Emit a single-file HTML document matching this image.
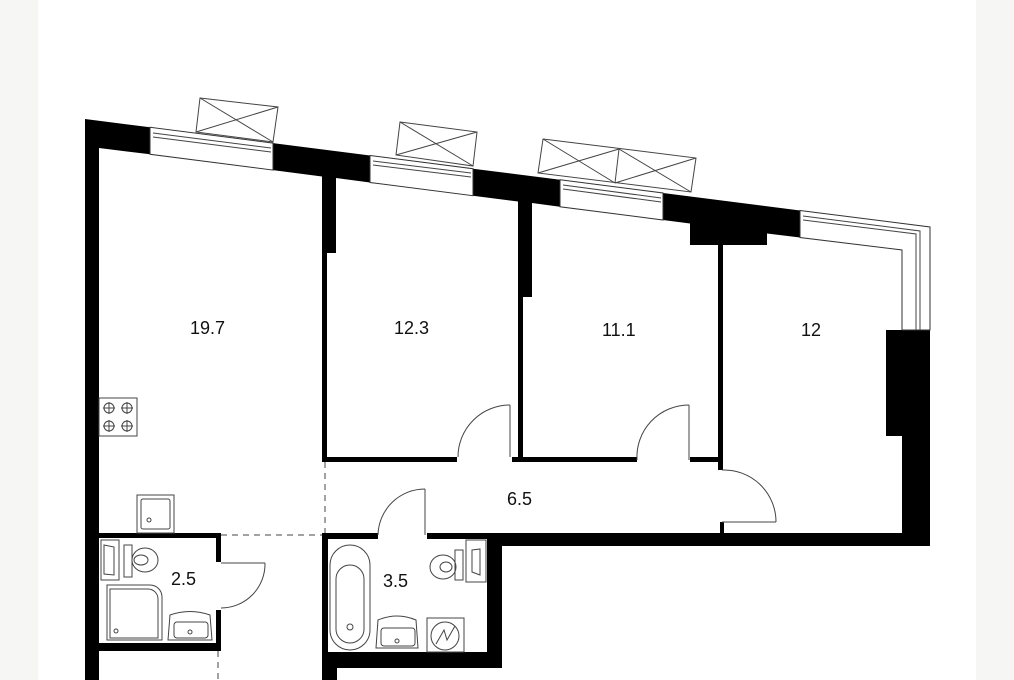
<!DOCTYPE html>
<html><head><meta charset="utf-8"><style>
html,body{margin:0;padding:0;background:#fff;}
body{width:1014px;height:680px;overflow:hidden;position:relative;}
.l{position:absolute;top:0;left:0;width:38px;height:680px;background:#f6f6f5;}
.r{position:absolute;top:0;right:0;width:38px;height:680px;background:#f6f6f5;}
svg{position:absolute;top:0;left:0;}
text{font-family:"Liberation Sans",sans-serif;font-size:18px;fill:#111;}
</style></head><body>
<div class="l"></div><div class="r"></div>
<svg width="1014" height="680" viewBox="0 0 1014 680">
<g fill="#000">
<polygon points="85,119 150,127.3 150,154.3 99,148 99,680 85,680"/>
<polygon points="273,143.1 370,155.5 370,182.5 336,178 336,253 322,253 322,176.5 273,170.1"/>
<polygon points="473,168.7 560,179.8 560,206.8 532,203 532,297 518,297 518,201.5 473,195.7"/>
<polygon points="663,193 800,210.5 800,237.5 767,233.5 767,245 690,245 690,223.5 663,220"/>
<rect x="902" y="330" width="28" height="216"/>
<rect x="886" y="330" width="17" height="106"/>
<rect x="487" y="533" width="443" height="13"/>
<rect x="487" y="533" width="15" height="135"/>
<rect x="322" y="652" width="180" height="16"/>
<rect x="322" y="533" width="6" height="147"/>
<rect x="322" y="652" width="15" height="28"/>
<rect x="322" y="250" width="5" height="212"/>
<rect x="518" y="295" width="5" height="167"/>
<rect x="718" y="237" width="5" height="233"/>
<rect x="720" y="522" width="4" height="12"/>
<rect x="322" y="457" width="135" height="5"/>
<rect x="512" y="457" width="125" height="5"/>
<rect x="690" y="457" width="33" height="5"/>
<rect x="99" y="533" width="122" height="5"/>
<rect x="216" y="533" width="5" height="29"/>
<rect x="216" y="610" width="5" height="40"/>
<rect x="99" y="643" width="122" height="8"/>
<rect x="322" y="533" width="56" height="6"/>
<rect x="427" y="533" width="62" height="6"/>
</g>
<g fill="#fff" stroke="#333" stroke-width="1">
<polygon points="150,127.3 273,143.1 273,170.1 150,154.3"/>
<polygon points="370,155.5 473,168.7 473,195.7 370,182.5"/>
<polygon points="560,179.8 663,193 663,220 560,206.8"/>
<polygon points="800,210.5 930,227 930,330 902,330 902,250 800,237.5"/>
</g>
<g fill="none" stroke="#444" stroke-width="1">
<polyline points="153,133 271,148"/><polyline points="153,137 271,152"/>
<polyline points="373,161 471,173"/><polyline points="373,165 471,177"/>
<polyline points="563,185 661,198"/><polyline points="563,189 661,202"/>
<polyline points="803,216 920,231 920,330"/><polyline points="803,220 916,234 916,330"/>
<polygon points="200,98 278,107 273,142 196,132"/><line x1="200" y1="98" x2="273" y2="142"/><line x1="278" y1="107" x2="196" y2="132"/>
<polygon points="400,122 477,132 473,166 396,155"/><line x1="400" y1="122" x2="473" y2="166"/><line x1="477" y1="132" x2="396" y2="155"/>
<polygon points="543,139 696,158 691,192 538,173"/><line x1="619" y1="149" x2="615" y2="183"/>
<line x1="543" y1="139" x2="615" y2="183"/><line x1="619" y1="149" x2="538" y2="173"/>
<line x1="619" y1="149" x2="691" y2="192"/><line x1="696" y1="158" x2="615" y2="183"/>
<line x1="510" y1="457" x2="510" y2="405"/><path d="M458,457 A52,52 0 0 1 510,405"/>
<line x1="689" y1="460" x2="689" y2="405"/><path d="M637,460 A52,52 0 0 1 689,405"/>
<line x1="722" y1="522" x2="776" y2="522"/><path d="M722,470 A52,52 0 0 1 776,522"/>
<line x1="221" y1="563" x2="265" y2="563"/><path d="M265,563 A44,44 0 0 1 221,608"/>
<line x1="425" y1="535" x2="425" y2="489"/><path d="M378,535 A47,47 0 0 1 425,489"/>
<line x1="325" y1="462" x2="325" y2="533" stroke-dasharray="6,5"/>
<line x1="221" y1="535" x2="322" y2="535" stroke-dasharray="6,5"/>
<line x1="218" y1="651" x2="218" y2="680" stroke-dasharray="6,5"/>
<rect x="99" y="398" width="38" height="38"/>
<circle cx="109" cy="408" r="5"/><circle cx="127" cy="408" r="5"/><circle cx="109" cy="426" r="5"/><circle cx="127" cy="426" r="5"/>
<path d="M103,408h12M109,402v12M121,408h12M127,402v12M103,426h12M109,420v12M121,426h12M127,420v12"/>
<rect x="137" y="495" width="37" height="38"/><rect x="141" y="499" width="29" height="30" rx="2"/><circle cx="149" cy="520" r="2"/>
<rect x="101" y="540" width="18" height="40"/><path d="M104,545 L114,547 L114,575 L104,574 Z"/>
<rect x="124" y="545" width="8" height="32"/><ellipse cx="145" cy="560" rx="13" ry="12"/><ellipse cx="141" cy="560" rx="7" ry="5"/>
<path d="M107,585 H150 A12,12 0 0 1 162,597 V640 H107 Z"/><path d="M110,589 H148 A10,10 0 0 1 158,599 V638 H110 Z"/><circle cx="116" cy="631" r="2"/>
<path d="M170,615 Q190,608 210,615 L212,640 H168 Z"/><rect x="174" y="622" width="34" height="16" rx="3"/><circle cx="190" cy="632" r="2"/>
<rect x="330" y="545" width="40" height="105" rx="20"/><rect x="336" y="565" width="28" height="78" rx="14"/><circle cx="350" cy="627" r="3"/>
<path d="M378,620 Q397,612 416,620 L418,648 H376 Z"/><rect x="381" y="628" width="34" height="18" rx="3"/><circle cx="397" cy="641" r="2"/>
<rect x="427" y="618" width="37" height="34"/><circle cx="445" cy="636" r="14"/><path d="M436,644 L444,630 L447,640 L455,626"/>
<rect x="455" y="550" width="8" height="30"/><ellipse cx="443" cy="567" rx="13" ry="12"/><ellipse cx="446" cy="567" rx="6" ry="5"/>
<rect x="466" y="540" width="20" height="42"/><path d="M472,550 L480,549 L480,575 L472,572 Z"/>
</g>
<text x="190" y="334">19.7</text>
<text x="394" y="334">12.3</text>
<text x="602" y="336">11.1</text>
<text x="801" y="336">12</text>
<text x="507" y="505">6.5</text>
<text x="171" y="585">2.5</text>
<text x="383" y="587">3.5</text>
</svg>
</body></html>
